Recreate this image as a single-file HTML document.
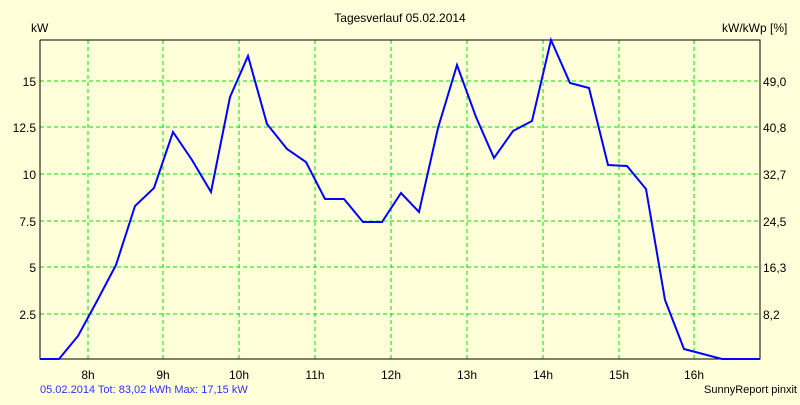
<!DOCTYPE html>
<html><head><style>
body{margin:0;width:800px;height:400px;background:#ffffd9;font-family:"Liberation Sans",sans-serif;overflow:hidden}
</style></head><body>
<svg width="800" height="400" xmlns="http://www.w3.org/2000/svg" font-family="Liberation Sans, sans-serif" font-size="12">
<rect width="800" height="400" fill="#ffffd9"/>
<g stroke="#00e000" stroke-width="1" stroke-dasharray="4,3">
<line x1="88" y1="40" x2="88" y2="359"/><line x1="163" y1="40" x2="163" y2="359"/><line x1="239" y1="40" x2="239" y2="359"/><line x1="315" y1="40" x2="315" y2="359"/><line x1="391" y1="40" x2="391" y2="359"/><line x1="467" y1="40" x2="467" y2="359"/><line x1="543" y1="40" x2="543" y2="359"/><line x1="619" y1="40" x2="619" y2="359"/><line x1="694" y1="40" x2="694" y2="359"/>
<line x1="40" y1="81" x2="760" y2="81"/><line x1="40" y1="127" x2="760" y2="127"/><line x1="40" y1="174" x2="760" y2="174"/><line x1="40" y1="221" x2="760" y2="221"/><line x1="40" y1="267" x2="760" y2="267"/><line x1="40" y1="314" x2="760" y2="314"/>
</g>
<path d="M40 40V359H760V40H40" fill="none" stroke="#000" stroke-width="1"/>
<polyline fill="none" stroke="#0000ff" stroke-width="2" points="40,359 59,359 78,336 97,301 116,265 135,206 154,188 173,132 192,160 211,192 230,97 248,56 267,124 287,149 306,162 325,199 344,199 363,222 382,222 401,193 419,212 438,128 457,65 476,117 494,158 513,131 532,121 551,40 570,83 589,88 608,165 627,166 646,189 665,300 684,349 703,354 722,359 760,359"/>
<g text-anchor="end"><text x="36" y="86">15</text><text x="36" y="132">12.5</text><text x="36" y="179">10</text><text x="36" y="226">7.5</text><text x="36" y="272">5</text><text x="36" y="319">2.5</text></g>
<g><text x="763" y="86">49,0</text><text x="763" y="132">40,8</text><text x="763" y="179">32,7</text><text x="763" y="226">24,5</text><text x="763" y="272">16,3</text><text x="763" y="319">8,2</text></g>
<g text-anchor="middle"><text x="88" y="379">8h</text><text x="163" y="379">9h</text><text x="239" y="379">10h</text><text x="315" y="379">11h</text><text x="391" y="379">12h</text><text x="467" y="379">13h</text><text x="543" y="379">14h</text><text x="619" y="379">15h</text><text x="694" y="379">16h</text></g>
<text x="31" y="32">kW</text>
<text x="722" y="32">kW/kWp [%]</text>
<text x="400" y="22" text-anchor="middle">Tagesverlauf 05.02.2014</text>
<text x="40" y="393" fill="#3030ff" font-size="11">05.02.2014 Tot: 83,02 kWh Max: 17,15 kW</text>
<text x="797" y="393" font-size="11" text-anchor="end">SunnyReport pinxit</text>
</svg>
</body></html>
